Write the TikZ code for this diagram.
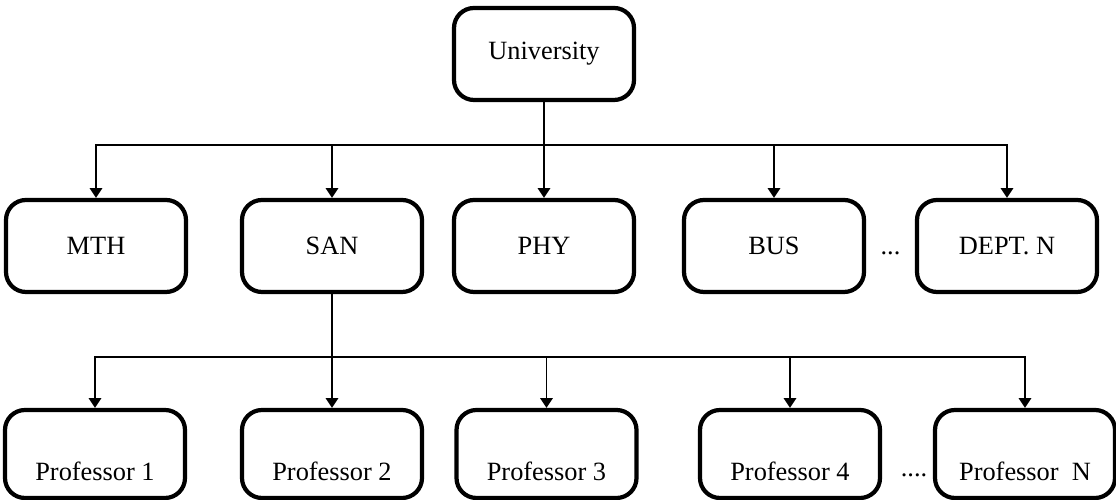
\documentclass[tikz,border=0pt]{standalone}
\usepackage{fontspec}
\setmainfont{Liberation Serif}
\usepackage{tikz}
\usetikzlibrary{arrows.meta}
\tikzstyle{unit} = [rectangle, rounded corners=0.4cm, minimum width=3.6cm, minimum height=1.84cm, text centered, draw=black, line width=2.4pt]
\tikzstyle{prof} = [rectangle, rounded corners=0.4cm, minimum width=3.6cm, inner ysep=0pt, text height=1.42cm, text depth=0.34cm, text centered, draw=black, line width=2.4pt]
\tikzstyle{arrow} = [line width=1pt,-{Triangle[length=5.5pt,width=7pt]}]

\begin{document}
\begin{tikzpicture}[node distance=4.6cm, font=\fontsize{15}{18}\selectfont]
\useasboundingbox (0,0) rectangle (22.32,10);

\node (uni) [unit] at (10.88,8.92) {University};

\node (phy) [unit, below of=uni, yshift=0.76cm] {PHY};
\node (san) [unit, left of=phy, xshift=0.36cm] {SAN};
\node (mth) [unit, left of=san, xshift=-0.12cm] {MTH};
\node (bus) [unit, right of=phy] {BUS};
\node (deptn) [unit, right of=bus, xshift=0.06cm] {DEPT. N};
\node (dots1) [right of=bus, xshift=-2.27cm, yshift=-0.14cm] {...};

\coordinate (bus1) at ([yshift=-0.86cm]uni.south);
\draw[arrow] (uni) -- (phy);
\draw[arrow] (bus1) -| (mth);
\draw[arrow] (bus1) -| (san);
\draw[arrow] (bus1) -| (bus);
\draw[arrow] (bus1) -| (deptn);

\node (prof2) [prof, below of=san, yshift=0.44cm] {Professor 2};
\node (prof1) [prof, left of=prof2, xshift=-0.14cm] {Professor 1};
\node (prof3) [prof, right of=prof2, xshift=-0.31cm] {Professor 3};
\node (prof4) [prof, right of=prof3, xshift=0.27cm] {Professor 4};
\node (profn) [prof, right of=prof4, xshift=0.1cm] {Professor\ \ N};
\node (dots2) at (18.28,0.5) {....};

\coordinate (bus2) at ([yshift=-1.26cm]san.south);
\draw[arrow] (san) -- (prof2);
\draw[arrow] (bus2) -| (prof1);
\draw[arrow] (bus2) -| (prof3);
\draw[arrow] (bus2) -| (prof4);
\draw[arrow] (bus2) -| (profn);

\end{tikzpicture}
\end{document}
